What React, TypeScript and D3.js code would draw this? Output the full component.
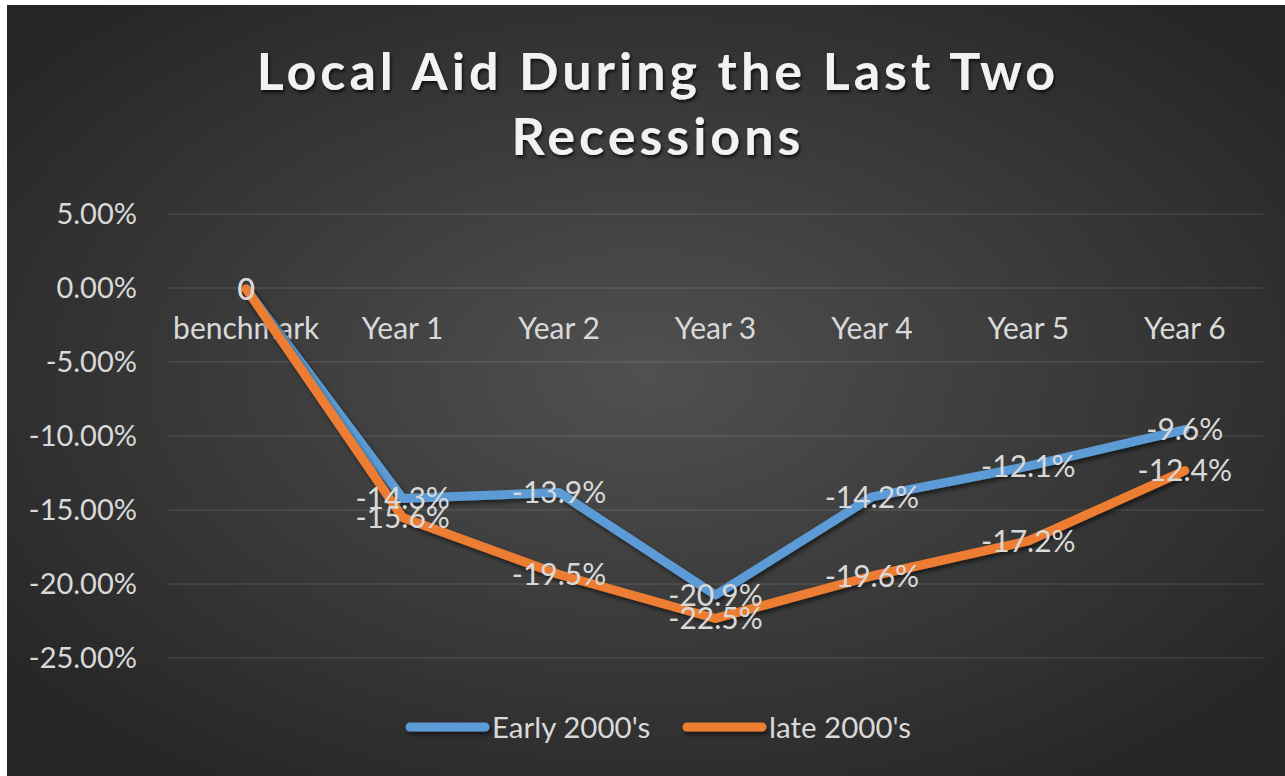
import React from "react";
import * as d3 from "d3";

const categories = ["benchmark", "Year 1", "Year 2", "Year 3", "Year 4", "Year 5", "Year 6"];
const early2000s = [0, -14.3, -13.9, -20.9, -14.2, -12.1, -9.6];
const late2000s = [0, -15.6, -19.5, -22.5, -19.6, -17.2, -12.4];
const yTicks = [5, 0, -5, -10, -15, -20, -25];
const seriesNames = ["Early 2000's", "late 2000's"];
const titleLines = ["Local Aid During the Last Two", "Recessions"];
// hidden secondary axis used for plotting the series
const secondaryDomain = [-25.2, 5.12];

const W = 1285;
const H = 776;
const FONT = "Lato, 'Open Sans', sans-serif";
const BLUE = "#5B9BD5";
const ORANGE = "#ED7D31";
const TEXT = "#D9D9D9";

export default function App() {
  const plot = { left: 168, right: 1263, top: 214, bottom: 658 };
  const x = d3.scalePoint<string>().domain(categories).range([plot.left, plot.right]).padding(0.5);
  const y = d3.scaleLinear().domain([-25, 5]).range([plot.bottom, plot.top]);
  const ys = d3.scaleLinear().domain(secondaryDomain).range([plot.bottom, plot.top]);

  const line = d3
    .line<number>()
    .x((_, i) => x(categories[i]) as number)
    .y((d) => ys(d));

  const series = [
    { name: seriesNames[0], values: early2000s, color: BLUE },
    { name: seriesNames[1], values: late2000s, color: ORANGE },
  ];

  const fmt = (v: number) => (v === 0 ? "0" : v.toFixed(1) + "%");
  const fmtAxis = (v: number) => v.toFixed(2) + "%";

  return (
    <svg
      width={W}
      height={H}
      style={{ position: "absolute", left: 0, top: 0, display: "block" }}
      fontFamily={FONT}
    >
      <defs>
        <radialGradient id="bg" cx="50%" cy="48%" r="65%">
          <stop offset="0%" stopColor="#505050" />
          <stop offset="100%" stopColor="#252525" />
        </radialGradient>
        <filter id="shadow" filterUnits="userSpaceOnUse" x={0} y={0} width={W} height={H}>
          <feDropShadow dx="2" dy="3" stdDeviation="2" floodColor="#000" floodOpacity="0.55" />
        </filter>
        <filter id="tshadow" filterUnits="userSpaceOnUse" x={0} y={0} width={W} height={H}>
          <feDropShadow dx="1.5" dy="2.5" stdDeviation="1.5" floodColor="#000" floodOpacity="0.7" />
        </filter>
      </defs>
      <rect x={0} y={0} width={W} height={H} fill="#ffffff" />
      <rect x={7} y={5} width={W - 7} height={H - 5} fill="url(#bg)" />

      {/* title */}
      <g filter="url(#tshadow)" fill="#F2F2F2" fontWeight={700} fontSize={52} textAnchor="middle">
        {titleLines.map((t, i) => (
          <text key={i} x={658} y={90 + i * 65} letterSpacing={4}>
            {t}
          </text>
        ))}
      </g>

      {/* gridlines */}
      <g>
        {yTicks.map((t) => (
          <line
            key={t}
            x1={plot.left}
            x2={plot.right}
            y1={y(t)}
            y2={y(t)}
            stroke="#ffffff"
            strokeOpacity={0.16}
            strokeWidth={1.2}
          />
        ))}
      </g>

      {/* y axis labels */}
      <g fill={TEXT} fontSize={29} textAnchor="end">
        {yTicks.map((t) => (
          <text key={t} x={137} y={y(t)} dy="0.36em">
            {fmtAxis(t)}
          </text>
        ))}
      </g>

      {/* category labels */}
      <g fill={TEXT} fontSize={30} textAnchor="middle">
        {categories.map((c) => (
          <text key={c} x={x(c) as number} y={y(0) + 51}>
            {c}
          </text>
        ))}
      </g>

      {/* series lines */}
      {series.map((s) => (
        <path
          key={s.name}
          d={line(s.values) as string}
          fill="none"
          stroke={s.color}
          strokeWidth={9}
          strokeLinecap="round"
          strokeLinejoin="round"
          filter="url(#shadow)"
        />
      ))}

      {/* data labels */}
      {series.map((s) => (
        <g key={s.name + "-labels"} fill={TEXT} fontSize={30} textAnchor="middle">
          {s.values.map((v, i) => (
            <text key={i} x={x(categories[i]) as number} y={ys(v)} dy="0.36em">
              {fmt(v)}
            </text>
          ))}
        </g>
      ))}

      {/* legend */}
      <g>
        {series.map((s, i) => {
          const lx = 410 + i * 277;
          return (
            <g key={s.name}>
              <line
                x1={lx}
                x2={lx + 75}
                y1={727}
                y2={727}
                stroke={s.color}
                strokeWidth={9}
                strokeLinecap="round"
                filter="url(#shadow)"
              />
              <text x={lx + 82} y={727} dy="0.36em" fill={TEXT} fontSize={29.5}>
                {s.name}
              </text>
            </g>
          );
        })}
      </g>
    </svg>
  );
}
